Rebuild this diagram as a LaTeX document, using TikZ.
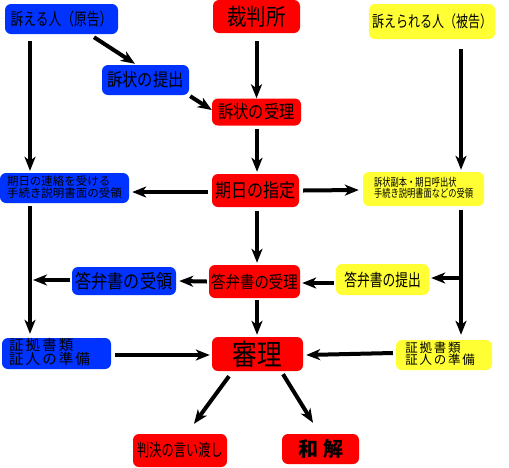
\documentclass[tikz,border=0pt]{standalone}
\usepackage{fontspec}
\usepackage{graphicx}
\setmainfont{Noto Sans CJK JP}
\newfontfamily\jpwide[LetterSpace=14]{Noto Sans CJK JP}
\usetikzlibrary{arrows.meta,calc}
\definecolor{jblue}{RGB}{0,51,255}
\definecolor{jred}{RGB}{255,0,0}
\definecolor{jyellow}{RGB}{255,255,51}
\newcommand{\cnd}[1]{\scalebox{0.85}[1]{#1}}
\newcommand{\cndd}[1]{\scalebox{0.75}[1]{#1}}
\newcommand{\jfs}[1]{\fontsize{#1}{#1}\selectfont}
\begin{document}
\begin{tikzpicture}[x=1pt,y=-1pt,
  box/.style={rounded corners=6pt,inner sep=0pt,align=center,text=black},
  bbox/.style={box,fill=jblue},
  rbox/.style={box,fill=jred},
  ybox/.style={box,fill=jyellow},
  arr/.style={line width=4pt,-{Stealth[length=14pt,width=11pt,inset=4pt]}},
  trunk/.style={line width=4pt}]
\useasboundingbox (0,0) rectangle (509,467);

% nodes
\node[bbox,minimum width=113,minimum height=30] (p0) at (61.5,19) {\jfs{17}\cndd{訴える人（原告）}};
\node[rbox,minimum width=87,minimum height=33] (court) at (256.5,16.5) {\jfs{23}\cnd{裁判所}};
\node[ybox,minimum width=126,minimum height=35] (def) at (432,21.5) {\jfs{16}\cndd{訴えられる人（被告）}};
\node[bbox,minimum width=87,minimum height=30] (teishutsu) at (145.5,80) {\jfs{18}\cnd{訴状の提出}};
\node[rbox,minimum width=89,minimum height=27] (juri) at (256.5,112) {\jfs{18}\cnd{訴状の受理}};
\node[bbox,minimum width=129,minimum height=30] (renraku) at (64.5,188) {\jfs{11.5}\begin{tabular}{@{}l@{}}期日の連絡を受ける\\[-1pt]手続き説明書面の受領\end{tabular}};
\node[rbox,minimum width=87,minimum height=33] (shitei) at (255.5,190.5) {\jfs{19}\cnd{期日の指定}};
\node[ybox,minimum width=121,minimum height=34] (fukuhon) at (423.5,189) {\jfs{11}\cndd{\begin{tabular}{@{}l@{}}訴状副本・期日呼出状\\[-1pt]手続き説明書面などの受領\end{tabular}}};
\node[bbox,minimum width=104,minimum height=28] (tjuryo) at (124,281) {\jfs{19}\cnd{答弁書の受領}};
\node[rbox,minimum width=91,minimum height=33] (tjuri) at (254.5,281.5) {\jfs{17}\cnd{答弁書の受理}};
\node[ybox,minimum width=93,minimum height=31] (tteishutsu) at (382.5,279.5) {\jfs{17}\cndd{答弁書の提出}};
\node[bbox,minimum width=109,minimum height=31] (ev1) at (56.5,353.5) {\jfs{14.5}\jpwide\begin{tabular}{@{}l@{}}証拠書類\\[-3pt]証人の準備\end{tabular}\hspace{14pt}};
\node[rbox,minimum width=91,minimum height=34] (shinri) at (257.5,354) {\jfs{29}\cnd{審理}};
\node[ybox,minimum width=96,minimum height=30] (ev2) at (444,355) {\jfs{12.5}\jpwide\begin{tabular}{@{}l@{}}証拠書類\\[-3pt]証人の準備\end{tabular}\hspace{8pt}};
\node[rbox,minimum width=94,minimum height=33] (hanketsu) at (180,450.5) {\jfs{17}\scalebox{0.72}[1]{判決の言い渡し}};
\node[rbox,minimum width=77,minimum height=30] (wakai) at (320.5,449) {\jfs{20}\bfseries 和\hspace{5pt}解};

% trunk points
\coordinate (lt) at (30,280);
\coordinate (rt) at (461,278);

% connectors
\draw[arr] ($(p0.south)+(32.5,3)$) -- ($(teishutsu.north)+(-10.5,-1)$);
\draw[arr] ($(teishutsu.south east)+(1,1)$) -- ($(juri.west)+(0,-2)$);
\draw[arr] ($(court.south)+(0,8)$) -- (juri.north);
\draw[arr] ($(juri.south)+(0.5,3)$) -- ($(shitei.north)+(1.5,-2)$);
\draw[arr] ($(p0.south)+(-31.5,7)$) -- ($(renraku.north)+(-34.5,-2)$);
\draw[arr] ($(def.south)+(29,10)$) -- ($(fukuhon.north)+(37.5,-2)$);
\draw[arr] ($(shitei.west)+(-4,1.5)$) -- ($(renraku.east)+(3,4)$);
\draw[arr] ($(shitei.east)+(4,0)$) -- ($(fukuhon.west)+(-4,1)$);
\draw[arr] ($(shitei.south)+(1.5,4)$) -- ($(tjuri.north)+(2.5,-2)$);
\draw[arr] ($(renraku.south)+(-34.5,3)$) -- ($(ev1.north)+(-26.5,-4)$);
\draw[arr] ($(tjuryo.west)+(-2,-1)$) -- ($(lt)+(3,0)$);
\draw[arr] ($(tjuri.west)+(-2,0)$) -- ($(tjuryo.east)+(3,0)$);
\draw[arr] ($(tteishutsu.west)+(-2,3.5)$) -- ($(tjuri.east)+(2,1.5)$);
\draw[arr] ($(fukuhon.south)+(37.5,4)$) -- ($(ev2.north)+(17,-5)$);
\draw[arr] (rt) -- ($(tteishutsu.east)+(2,-1.5)$);
\draw[arr] ($(tjuri.south)+(2.5,2)$) -- ($(shinri.north)+(-0.5,-2)$);
\draw[arr] ($(ev1.east)+(4,1.5)$) -- ($(shinri.west)+(-2,1)$);
\draw[arr] ($(ev2.west)+(-3,-2)$) -- ($(shinri.east)+(3,1)$);
\draw[arr] ($(shinri.south)+(-28.5,5)$) -- ($(hanketsu.north)+(14,-10)$);
\draw[arr] ($(shinri.south)+(25.5,3)$) -- ($(wakai.north)+(-7.5,-11)$);
\end{tikzpicture}
\end{document}
